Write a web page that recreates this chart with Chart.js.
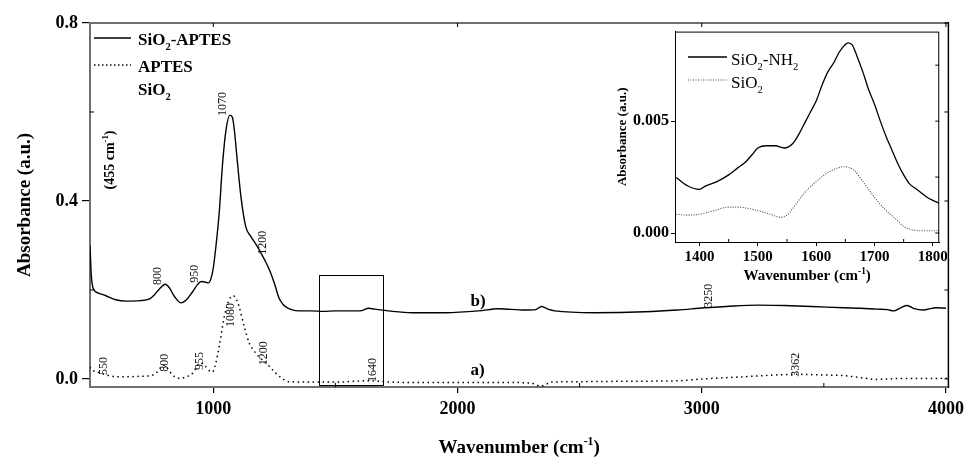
<!DOCTYPE html>
<html>
<head>
<meta charset="utf-8">
<script src="https://cdn.jsdelivr.net/npm/chart.js@4"></script>
<style>
  body { margin: 0; background: #fff; }
  #wrap { position: relative; width: 970px; height: 457px; }
  #mainChart { position: absolute; left: 0; top: 0; }
  #insetChart { position: absolute; left: 600px; top: 20px; }
</style>
</head>
<body>
<div id="wrap">
  <canvas id="mainChart" width="970" height="457"></canvas>
  <canvas id="insetChart" width="350" height="275"></canvas>
</div>
<script>
// Main spectra (b: SiO2-APTES, a: APTES)
const silicaAptesWave = [495, 500, 508, 530, 560, 600, 643, 700, 739, 760, 780, 804, 820, 840, 868, 890, 915, 935, 950, 965, 980, 990, 1000, 1011, 1024, 1038, 1052, 1068, 1078, 1086, 1099, 1113, 1133, 1154, 1181, 1208, 1230, 1250, 1269, 1285, 1297, 1320, 1351, 1400, 1450, 1500, 1550, 1600, 1637, 1660, 1718, 1814, 1950, 2086, 2167, 2276, 2320, 2344, 2370, 2399, 2562, 2766, 2900, 3011, 3100, 3229, 3337, 3450, 3582, 3650, 3718, 3760, 3786, 3815, 3841, 3870, 3909, 3935, 3957, 4000];
const silicaAptesAbs = [0.30, 0.235, 0.204, 0.193, 0.187, 0.178, 0.175, 0.176, 0.18, 0.19, 0.203, 0.213, 0.205, 0.186, 0.171, 0.178, 0.196, 0.212, 0.219, 0.218, 0.216, 0.225, 0.25, 0.30, 0.373, 0.485, 0.56, 0.593, 0.588, 0.56, 0.485, 0.41, 0.342, 0.32, 0.297, 0.27, 0.245, 0.215, 0.182, 0.168, 0.162, 0.156, 0.153, 0.153, 0.152, 0.153, 0.153, 0.153, 0.159, 0.157, 0.153, 0.149, 0.149, 0.153, 0.158, 0.155, 0.156, 0.163, 0.157, 0.153, 0.149, 0.151, 0.155, 0.16, 0.163, 0.166, 0.165, 0.163, 0.16, 0.159, 0.157, 0.156, 0.153, 0.16, 0.165, 0.158, 0.155, 0.158, 0.16, 0.159];

const aptesWave = [494, 505, 535, 570, 603, 650, 700, 739, 765, 785, 796, 810, 835, 861, 885, 915, 935, 948, 965, 985, 997, 1010, 1024, 1045, 1065, 1082, 1095, 1106, 1127, 1147, 1174, 1208, 1230, 1256, 1280, 1310, 1400, 1500, 1637, 1700, 1800, 2000, 2200, 2300, 2340, 2360, 2380, 2500, 2700, 2902, 3000, 3174, 3300, 3378, 3500, 3582, 3650, 3718, 3800, 3900, 4004];
const aptesAbs = [0.027, 0.02, 0.014, 0.008, 0.005, 0.005, 0.006, 0.007, 0.013, 0.026, 0.031, 0.025, 0.008, 0.0015, 0.004, 0.013, 0.03, 0.036, 0.03, 0.018, 0.016, 0.035, 0.073, 0.14, 0.178, 0.187, 0.178, 0.162, 0.117, 0.081, 0.058, 0.039, 0.028, 0.013, 0.002, -0.006, -0.007, -0.007, -0.004, -0.006, -0.008, -0.008, -0.008, -0.009, -0.016, -0.013, -0.007, -0.006, -0.005, -0.004, 0.0, 0.005, 0.009, 0.0105, 0.009, 0.0075, 0.003, -0.001, 0.001, 0.001, 0.0015];

// Inset spectra (1360-1810 cm-1)
const insetNH2Wave = [1360, 1380, 1400, 1410, 1430, 1450, 1465, 1480, 1490, 1500, 1515, 1530, 1545, 1560, 1570, 1580, 1590, 1600, 1610, 1620, 1630, 1640, 1655, 1662, 1670, 1680, 1690, 1700, 1710, 1720, 1730, 1740, 1750, 1760, 1770, 1780, 1790, 1800, 1810];
const insetNH2Abs = [0.00248, 0.0021, 0.00195, 0.0021, 0.0023, 0.0026, 0.0029, 0.0032, 0.0035, 0.0038, 0.0039, 0.0039, 0.0038, 0.004, 0.0044, 0.0049, 0.0054, 0.0059, 0.0066, 0.0072, 0.0076, 0.0081, 0.0085, 0.0084, 0.0079, 0.0072, 0.0064, 0.00575, 0.005, 0.0043, 0.0037, 0.0031, 0.0026, 0.0022, 0.002, 0.0018, 0.0016, 0.00146, 0.00134];
const insetSiO2Wave = [1360, 1380, 1400, 1425, 1450, 1470, 1500, 1520, 1540, 1550, 1560, 1580, 1600, 1620, 1648, 1665, 1680, 1700, 1720, 1735, 1750, 1767, 1790, 1810];
const insetSiO2Abs = [0.00084, 0.0008, 0.00084, 0.001, 0.00116, 0.00115, 0.001, 0.00085, 0.0007, 0.0008, 0.0011, 0.0018, 0.0023, 0.0027, 0.00296, 0.0028, 0.0023, 0.0016, 0.001, 0.00066, 0.0003, 0.00013, 0.0001, 0.0001];

// Ticks
const mainXTicks = [1000, 2000, 3000, 4000];
const mainXMinor = [1500, 2500, 3500];
const mainYTicks = [0.0, 0.4, 0.8];
const mainYMinor = [0.2, 0.6];
const insetXTicks = [1400, 1500, 1600, 1700, 1800];
const insetXMinor = [1450, 1550, 1650, 1750];
const insetYTicks = [0.000, 0.005];
const insetYRight = [0.0, 0.0025, 0.005, 0.0075];

// Peak labels: text, wavenumber, absorbance at the lower end of the label
const peakText = ['1070', '800', '950', '1200', '1080', '550', '800', '955', '1200', '1640', '3250', '3362'];
const peakWave = [1037, 771, 925, 1204, 1072, 551, 800, 943, 1207, 1653, 3031, 3386];
const peakAbs = [0.591, 0.211, 0.216, 0.279, 0.117, 0.009, 0.016, 0.02, 0.031, -0.007, 0.16, 0.005];

// Zoomed region box
const boxWave = [1433, 1694];
const boxAbs = [-0.0135, 0.234];

const SERIF = '"Liberation Serif", "Times New Roman", serif';
Chart.defaults.font.family = SERIF;
Chart.defaults.color = '#000';

function toPoints(xs, ys) {
  return xs.map((x, i) => ({ x: x, y: ys[i] }));
}

// draws text made of parts: [text, ''|'sub'|'sup']
function drawRich(ctx, parts, x, y, size, weight, align) {
  const small = size * 0.62;
  let width = 0;
  parts.forEach(p => {
    ctx.font = `${weight} ${p[1] ? small : size}px ${SERIF}`;
    width += ctx.measureText(p[0]).width;
  });
  let cx = align === 'center' ? x - width / 2 : align === 'right' ? x - width : x;
  ctx.textAlign = 'left';
  ctx.textBaseline = 'alphabetic';
  parts.forEach(p => {
    ctx.font = `${weight} ${p[1] ? small : size}px ${SERIF}`;
    const dy = p[1] === 'sub' ? size * 0.28 : p[1] === 'sup' ? -size * 0.42 : 0;
    ctx.fillText(p[0], cx, y + dy);
    cx += ctx.measureText(p[0]).width;
  });
}

function drawRotated(ctx, parts, x, y, size, weight, align) {
  ctx.save();
  ctx.translate(x, y);
  ctx.rotate(-Math.PI / 2);
  drawRich(ctx, parts, 0, 0, size, weight, align);
  ctx.restore();
}

function tick(ctx, x1, y1, x2, y2) {
  ctx.beginPath();
  ctx.moveTo(x1, y1);
  ctx.lineTo(x2, y2);
  ctx.stroke();
}

const mainDecor = {
  id: 'mainDecor',
  afterDraw(chart) {
    const ctx = chart.ctx;
    const xs = chart.scales.x, ys = chart.scales.y;
    const a = chart.chartArea;
    ctx.save();
    ctx.fillStyle = '#000';

    // frame top/right
    ctx.strokeStyle = '#707070';
    ctx.lineWidth = 2;
    tick(ctx, a.left - 1, a.top, a.right, a.top);
    ctx.strokeStyle = '#000';
    ctx.lineWidth = 1.5;
    tick(ctx, a.right, a.top - 1, a.right, a.bottom + 1);

    // minor + mirror ticks
    ctx.lineWidth = 1;
    mainXMinor.forEach(v => { const px = xs.getPixelForValue(v); tick(ctx, px, a.bottom, px, a.bottom - 4); });
    mainXTicks.forEach(v => { const px = xs.getPixelForValue(v); tick(ctx, px, a.top, px, a.top + 4); });
    mainYMinor.forEach(v => { const py = ys.getPixelForValue(v); tick(ctx, a.left, py, a.left + 4, py); });
    mainYTicks.concat(mainYMinor).forEach(v => { const py = ys.getPixelForValue(v); tick(ctx, a.right, py, a.right - 4, py); });

    // zoom box
    ctx.lineWidth = 1;
    const bx1 = xs.getPixelForValue(boxWave[0]), bx2 = xs.getPixelForValue(boxWave[1]);
    const by1 = ys.getPixelForValue(boxAbs[1]), by2 = ys.getPixelForValue(boxAbs[0]);
    ctx.strokeRect(Math.round(bx1) + 0.5, Math.round(by1) + 0.5, Math.round(bx2 - bx1), Math.round(by2 - by1));

    // legend
    ctx.lineWidth = 1.4;
    tick(ctx, 94, 38, 131, 38);
    ctx.setLineDash([1.5, 2.5]);
    tick(ctx, 94, 65, 131, 65);
    ctx.setLineDash([]);
    drawRich(ctx, [['SiO', ''], ['2', 'sub'], ['-APTES', '']], 138, 45, 17, 'bold', 'left');
    drawRich(ctx, [['APTES', '']], 138, 72, 17, 'bold', 'left');
    drawRich(ctx, [['SiO', ''], ['2', 'sub']], 138, 95, 17, 'bold', 'left');

    // peak labels
    ctx.fillStyle = '#111';
    peakText.forEach((t, i) => {
      const px = xs.getPixelForValue(peakWave[i]);
      const py = ys.getPixelForValue(peakAbs[i]);
      ctx.save();
      ctx.translate(px, py);
      ctx.rotate(-Math.PI / 2);
      ctx.font = `12px ${SERIF}`;
      ctx.textAlign = 'left';
      ctx.textBaseline = 'middle';
      ctx.fillText(t, 0, 0);
      ctx.restore();
    });
    ctx.fillStyle = '#000';

    // curve tags
    drawRich(ctx, [['b)', '']], xs.getPixelForValue(2053), ys.getPixelForValue(0.164), 17, 'bold', 'left');
    drawRich(ctx, [['a)', '']], xs.getPixelForValue(2053), ys.getPixelForValue(0.009), 17, 'bold', 'left');

    // 455 band note
    drawRotated(ctx, [['(455 cm', ''], ['-1', 'sup'], [')', '']], 114, 160, 14, 'bold', 'center');

    // axis titles
    drawRotated(ctx, [['Absorbance (a.u.)', '']], 30, (a.top + a.bottom) / 2, 19, 'bold', 'center');
    drawRich(ctx, [['Wavenumber (cm', ''], ['-1', 'sup'], [')', '']], (a.left + a.right) / 2, 453, 19, 'bold', 'center');
    ctx.restore();
  }
};

const insetDecor = {
  id: 'insetDecor',
  beforeDraw(chart) {
    const a = chart.chartArea;
    chart.ctx.save();
    chart.ctx.fillStyle = '#fff';
    chart.ctx.fillRect(a.left, a.top, a.right - a.left, a.bottom - a.top);
    chart.ctx.restore();
  },
  afterDraw(chart) {
    const ctx = chart.ctx;
    const xs = chart.scales.x, ys = chart.scales.y;
    const a = chart.chartArea;
    ctx.save();
    ctx.strokeStyle = '#000';
    ctx.fillStyle = '#000';
    ctx.lineWidth = 1;
    ctx.strokeRect(a.left + 0.5, a.top + 0.5, a.right - a.left - 1, a.bottom - a.top);

    insetYRight.forEach(v => { const py = ys.getPixelForValue(v); tick(ctx, a.right, py, a.right - 4, py); });
    insetXMinor.forEach(v => { const px = xs.getPixelForValue(v); tick(ctx, px, a.bottom, px, a.bottom - 3); });

    // legend
    ctx.lineWidth = 1.3;
    tick(ctx, a.left + 13, 37, a.left + 52, 37);
    ctx.strokeStyle = '#444';
    ctx.lineWidth = 1.1;
    ctx.setLineDash([1, 1.5]);
    tick(ctx, a.left + 13, 60, a.left + 52, 60);
    ctx.setLineDash([]);
    drawRich(ctx, [['SiO', ''], ['2', 'sub'], ['-NH', ''], ['2', 'sub']], a.left + 56, 45, 17, 'normal', 'left');
    drawRich(ctx, [['SiO', ''], ['2', 'sub']], a.left + 56, 68, 17, 'normal', 'left');

    // titles
    drawRotated(ctx, [['Absorbance (a.u.)', '']], 26, (a.top + a.bottom) / 2, 13, 'bold', 'center');
    drawRich(ctx, [['Wavenumber (cm', ''], ['-1', 'sup'], [')', '']], (a.left + a.right) / 2, 260, 15, 'bold', 'center');
    ctx.restore();
  }
};

const mainChart = new Chart(document.getElementById('mainChart'), {
  type: 'line',
  data: {
    datasets: [
      { label: 'SiO2-APTES', data: toPoints(silicaAptesWave, silicaAptesAbs), borderColor: '#000', borderWidth: 1.4, pointRadius: 0, cubicInterpolationMode: 'monotone' },
      { label: 'APTES', data: toPoints(aptesWave, aptesAbs), borderColor: '#000', borderWidth: 1.5, borderDash: [1.5, 3.5], pointRadius: 0, cubicInterpolationMode: 'monotone' }
    ]
  },
  options: {
    responsive: false,
    animation: false,
    devicePixelRatio: 1,
    layout: { padding: { top: 23, right: 19, left: 0, bottom: 0 } },
    plugins: { legend: { display: false }, tooltip: { enabled: false } },
    scales: {
      x: {
        type: 'linear', min: 495, max: 4010,
        afterBuildTicks: s => { s.ticks = mainXTicks.map(v => ({ value: v })); },
        afterFit: s => { s.height = 70; },
        ticks: { font: { size: 18, weight: 'bold' }, padding: 6, maxRotation: 0, autoSkip: false, callback: v => String(v) },
        grid: { drawOnChartArea: false, tickLength: 6, color: '#000', lineWidth: 1.2 },
        border: { color: '#707070', width: 2 }
      },
      y: {
        min: -0.018, max: 0.8,
        afterBuildTicks: s => { s.ticks = mainYTicks.map(v => ({ value: v })); },
        afterFit: s => { s.width = 90; },
        ticks: { font: { size: 18, weight: 'bold' }, padding: 4, callback: v => v.toFixed(1) },
        grid: { drawOnChartArea: false, tickLength: 8, color: '#000', lineWidth: 1.2 },
        border: { color: '#707070', width: 2 }
      }
    }
  },
  plugins: [mainDecor]
});

const insetChart = new Chart(document.getElementById('insetChart'), {
  type: 'line',
  data: {
    datasets: [
      { label: 'SiO2-NH2', data: toPoints(insetNH2Wave, insetNH2Abs), borderColor: '#000', borderWidth: 1.3, pointRadius: 0, cubicInterpolationMode: 'monotone' },
      { label: 'SiO2', data: toPoints(insetSiO2Wave, insetSiO2Abs), borderColor: '#444', borderWidth: 1.1, borderDash: [1, 1.5], pointRadius: 0, cubicInterpolationMode: 'monotone' }
    ]
  },
  options: {
    responsive: false,
    animation: false,
    devicePixelRatio: 1,
    layout: { padding: { top: 9, right: 7, left: 0, bottom: 0 } },
    plugins: { legend: { display: false }, tooltip: { enabled: false } },
    scales: {
      x: {
        type: 'linear', min: 1358, max: 1811,
        afterBuildTicks: s => { s.ticks = insetXTicks.map(v => ({ value: v })); },
        afterFit: s => { s.height = 53; },
        ticks: { font: { size: 15, weight: 'bold' }, padding: 2, maxRotation: 0, autoSkip: false, callback: v => String(v) },
        grid: { drawOnChartArea: false, tickLength: 4, color: '#000' },
        border: { color: '#000', width: 1 }
      },
      y: {
        min: -0.0004, max: 0.009,
        afterBuildTicks: s => { s.ticks = insetYTicks.map(v => ({ value: v })); },
        afterFit: s => { s.width = 75; },
        ticks: { font: { size: 16, weight: 'bold' }, padding: 2, callback: v => v.toFixed(3) },
        grid: { drawOnChartArea: false, tickLength: 4, color: '#000' },
        border: { color: '#000', width: 1 }
      }
    }
  },
  plugins: [insetDecor]
});
</script>
</body>
</html>
